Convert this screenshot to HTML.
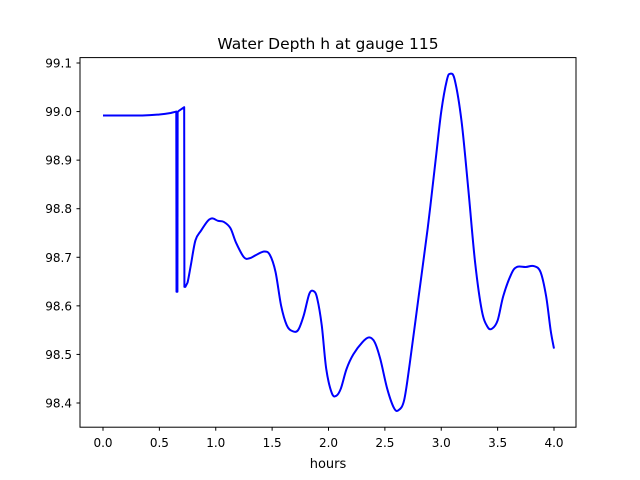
<!DOCTYPE html>
<html><head><meta charset="utf-8"><style>
body{margin:0;background:#fff}
svg{display:block;font-family:"DejaVu Sans","Liberation Sans",sans-serif}
</style></head><body>
<svg id="chart" width="640" height="480" viewBox="0 0 640 480">
<rect width="640" height="480" fill="#fff"/>
<text x="328" y="49" font-size="15.5" text-anchor="middle">Water Depth h at gauge 115</text>
<g id="plot"></g>
<rect x="80" y="57.6" width="496" height="369.6" fill="none" stroke="#000" stroke-width="1"/>
<g id="xticks"></g><g id="yticks"></g>
<text x="328" y="468" font-size="13" text-anchor="middle">hours</text>
</svg>
<script>
const hours=[0,0.35,0.5,0.6,0.65,0.652,0.66,0.662,0.67,0.72,0.722,0.73,0.75,0.78,0.82,0.87,0.93,0.97,1.02,1.07,1.13,1.18,1.25,1.3,1.36,1.43,1.48,1.53,1.58,1.63,1.68,1.73,1.78,1.83,1.87,1.9,1.94,1.98,2.03,2.07,2.11,2.16,2.22,2.3,2.36,2.41,2.46,2.52,2.58,2.62,2.67,2.72,2.8,2.88,2.95,3.0,3.05,3.08,3.12,3.18,3.24,3.3,3.36,3.41,3.45,3.5,3.55,3.62,3.67,3.75,3.82,3.88,3.93,3.97,4.0];
const depth=[98.992,98.992,98.994,98.997,99.0,98.629,98.629,98.999,99.001,99.009,98.639,98.639,98.648,98.685,98.735,98.755,98.775,98.78,98.775,98.773,98.76,98.73,98.70,98.698,98.705,98.712,98.705,98.67,98.60,98.56,98.548,98.55,98.58,98.625,98.63,98.615,98.56,98.47,98.42,98.415,98.43,98.47,98.50,98.525,98.535,98.525,98.49,98.43,98.39,98.385,98.405,98.48,98.62,98.76,98.90,99.0,99.065,99.078,99.065,98.98,98.84,98.69,98.59,98.557,98.553,98.57,98.62,98.665,98.68,98.68,98.682,98.67,98.62,98.55,98.512];
const xTicks=[0.0,0.5,1.0,1.5,2.0,2.5,3.0,3.5,4.0];
const yTicks=[98.4,98.5,98.6,98.7,98.8,98.9,99.0,99.1];
const NS="http://www.w3.org/2000/svg";
function xs(v){return 103+v*112.75;}
function ys(v){return 63+(99.1-v)*485.7;}
const plot=document.getElementById('plot');
const P=hours.map((h,i)=>[xs(h),ys(depth[i])]);
function jump(i){return i>=0&&i<P.length-1&&(hours[i+1]-hours[i])<0.01;}
let d='M'+P[0][0].toFixed(2)+','+P[0][1].toFixed(2);
for(let i=0;i<P.length-1;i++){
 const p1=P[i],p2=P[i+1];
 if(jump(i)||jump(i-1)||jump(i+1)||i===0){d+=' L'+p2[0].toFixed(2)+','+p2[1].toFixed(2);continue;}
 const p0=P[i-1],p3=P[i+2]||p2;
 const c1=[p1[0]+(p2[0]-p0[0])/6,p1[1]+(p2[1]-p0[1])/6];
 const c2=[p2[0]-(p3[0]-p1[0])/6,p2[1]-(p3[1]-p1[1])/6];
 d+=' C'+c1.map(v=>v.toFixed(2)).join(',')+' '+c2.map(v=>v.toFixed(2)).join(',')+' '+p2[0].toFixed(2)+','+p2[1].toFixed(2);
}
const line=document.createElementNS(NS,'path');


line.setAttribute('d',d);
line.setAttribute('fill','none');line.setAttribute('stroke','#0000ff');line.setAttribute('stroke-width','2');
line.setAttribute('stroke-linejoin','round');
plot.appendChild(line);
const xg=document.getElementById('xticks');
xTicks.forEach(t=>{
 const l=document.createElementNS(NS,'line');
 
 
 l.setAttribute('x1',xs(t));l.setAttribute('x2',xs(t));l.setAttribute('y1',427.2);l.setAttribute('y2',430.7);l.setAttribute('stroke','#000');
 xg.appendChild(l);
 const tx=document.createElementNS(NS,'text');
 
 
 tx.setAttribute('x',xs(t));tx.setAttribute('y',447);tx.setAttribute('font-size','12');tx.setAttribute('text-anchor','middle');
 tx.textContent=t.toFixed(1);xg.appendChild(tx);
});
const yg=document.getElementById('yticks');
yTicks.forEach(t=>{
 const l=document.createElementNS(NS,'line');
 
 
 l.setAttribute('x1',76.5);l.setAttribute('x2',80);l.setAttribute('y1',ys(t));l.setAttribute('y2',ys(t));l.setAttribute('stroke','#000');
 yg.appendChild(l);
 const tx=document.createElementNS(NS,'text');
 
 
 tx.setAttribute('x',72);tx.setAttribute('y',ys(t)+4.5);tx.setAttribute('font-size','12');tx.setAttribute('text-anchor','end');
 tx.textContent=t.toFixed(1);yg.appendChild(tx);
});
</script>
</body></html>
